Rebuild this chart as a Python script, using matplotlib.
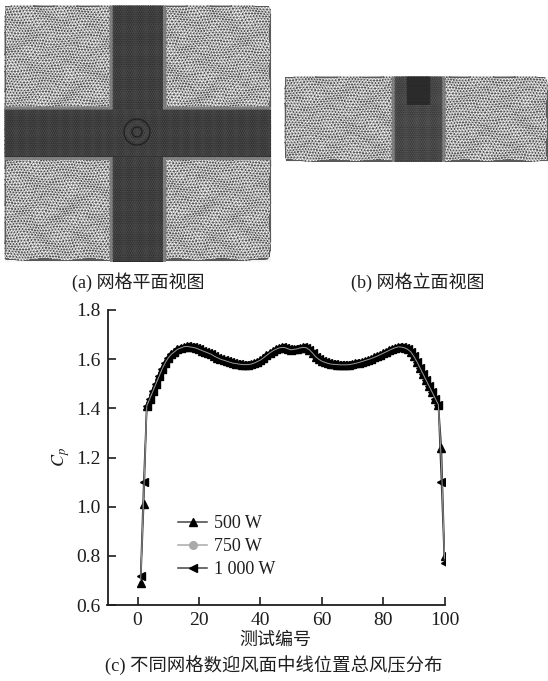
import numpy as np
import matplotlib
matplotlib.use('Agg')
import matplotlib.pyplot as plt
import matplotlib.tri as mtri
from matplotlib.lines import Line2D

plt.rcParams['font.family'] = ['Liberation Serif', 'Noto Sans CJK SC']
plt.rcParams['mathtext.fontset'] = 'stix'

# measured point ids on the windward centre line
test_no = list(range(1, 101))

# shared part of the curve, points 3 to 98
cp_mid = [1.41, 1.44, 1.47, 1.50, 1.53, 1.56, 1.585, 1.605, 1.62, 1.63,
          1.64, 1.645, 1.65, 1.652, 1.65, 1.648, 1.645, 1.64, 1.635, 1.63,
          1.625, 1.62, 1.612, 1.606, 1.60, 1.596, 1.592, 1.588, 1.584, 1.582,
          1.58, 1.578, 1.578, 1.578, 1.58, 1.584, 1.59, 1.596, 1.605, 1.615,
          1.625, 1.633, 1.64, 1.645, 1.648, 1.647, 1.642, 1.638, 1.64, 1.642,
          1.646, 1.648, 1.646, 1.638, 1.625, 1.61, 1.60, 1.592, 1.587, 1.583,
          1.58, 1.579, 1.578, 1.577, 1.577, 1.577, 1.578, 1.58, 1.583, 1.586,
          1.59, 1.594, 1.598, 1.602, 1.607, 1.612, 1.618, 1.624, 1.63, 1.636,
          1.642, 1.647, 1.65, 1.649, 1.646, 1.64, 1.63, 1.612, 1.59, 1.565,
          1.54, 1.515, 1.49, 1.465, 1.44, 1.415]
cp_500 = [0.69, 1.01] + cp_mid + [1.24, 0.80]
cp_750 = [0.70, 1.05] + cp_mid + [1.18, 0.79]
cp_1000 = [0.72, 1.10] + cp_mid + [1.10, 0.77]

x_ticks = [0, 20, 40, 60, 80, 100]
y_ticks = [0.6, 0.8, 1.0, 1.2, 1.4, 1.6, 1.8]
y_labels = ['0.6', '0.8', '1.0', '1.2', '1.4', '1.6', '1.8']

W, H = 548, 681
INK = '#1e1e1e'


def draw_mesh(ax, x0, x1, y0, y1, step, color, lw, bg, warp=0.0):
    # staggered triangle mesh inside a pixel box
    ax.fill([x0, x1, x1, x0], [y0, y0, y1, y1], color=bg, lw=0)
    xs = np.arange(x0, x1 + 0.01, step)
    ys = np.arange(y0, y1 + 0.01, step * 0.87)
    xx, yy = np.meshgrid(xs, ys)
    xx = xx + (np.arange(len(ys)) % 2)[:, None] * step / 2
    xx = np.minimum(xx, x1)
    # small warp so the cells bunch up into the winding bands of a free mesh
    dx = warp * np.sin(yy / 6.0 + np.sin(xx / 11.0) * 2)
    dy = warp * np.sin(xx / 7.0 + np.cos(yy / 9.0) * 2)
    px = np.clip(xx + dx, x0, x1)
    py = np.clip(yy + dy, y0, y1)
    tri = mtri.Triangulation(px.ravel(), py.ravel())
    ax.triplot(tri, color=color, lw=lw)


fig = plt.figure(figsize=(W / 100, H / 100), dpi=100)

# meshes are drawn in pixel coordinates on one background axes
bg = fig.add_axes([0, 0, 1, 1])
bg.set_xlim(0, W)
bg.set_ylim(H, 0)
bg.axis('off')

# (a) plan view
draw_mesh(bg, 5, 271, 6, 262, 3.1, '#5a5a5a', 0.33, '#f6f6f6', warp=0.8)
draw_mesh(bg, 110, 166, 6, 262, 2.4, '#7a7a7a', 0.4, '#8c8c8c')
draw_mesh(bg, 5, 271, 107, 160, 2.4, '#7a7a7a', 0.4, '#8c8c8c')
draw_mesh(bg, 113, 163, 6, 262, 2.2, '#474747', 0.35, '#2b2b2b')
draw_mesh(bg, 5, 271, 110, 157, 2.2, '#474747', 0.35, '#2b2b2b')
for r, c in [(13, '#222222'), (9, '#484848'), (5, '#222222')]:
    bg.add_patch(plt.Circle((137, 132), r, fill=False, ec=c, lw=1.0))

# (b) elevation view
draw_mesh(bg, 285, 548, 77, 162, 3.1, '#5a5a5a', 0.33, '#f6f6f6', warp=0.7)
draw_mesh(bg, 392, 445, 77, 162, 2.4, '#7a7a7a', 0.4, '#8c8c8c')
draw_mesh(bg, 395, 442, 77, 162, 2.2, '#505050', 0.35, '#333333')
draw_mesh(bg, 407, 430, 77, 105, 1.5, '#2c2c2c', 0.3, '#1c1c1c')

bg.text(138, 282, '(a) 网格平面视图', fontsize=13, ha='center', va='center', color=INK)
bg.text(418, 282, '(b) 网格立面视图', fontsize=13, ha='center', va='center', color=INK)
bg.text(275, 640, '测试编号', fontsize=13, ha='center', va='center', color=INK)
bg.text(274, 665, '(c) 不同网格数迎风面中线位置总风压分布', fontsize=13.2, ha='center', va='center', color=INK)

# (c) pressure curve
ax = fig.add_axes([107.5 / W, 1 - 605 / H, (444.5 - 107.5) / W, 295 / H])
ax.patch.set_alpha(0)
ax.plot(test_no, cp_500, color='#333333', lw=1.1, marker='^', ms=6, mfc='black', mec='black')
ax.plot(test_no, cp_1000, color='#333333', lw=1.1, marker='<', ms=6, mfc='black', mec='black')
ax.plot(test_no, cp_750, color='#999999', lw=0.7)

ax.set_xlim(-9.8, 100)
ax.set_ylim(0.6, 1.8)
ax.set_xticks(x_ticks)
ax.set_yticks(y_ticks)
ax.set_yticklabels(y_labels)
ax.tick_params(direction='in', length=6, width=1.2, labelsize=14, color=INK, labelcolor=INK, pad=5)
for side in ['top', 'right']:
    ax.spines[side].set_visible(False)
for side in ['left', 'bottom']:
    ax.spines[side].set_linewidth(1.3)
    ax.spines[side].set_color(INK)
ax.set_ylabel(r'$C_p$', fontsize=13, color=INK, labelpad=3)

handles = [Line2D([], [], color='#444444', lw=1.1, marker='^', ms=5.5, mfc='black', mec='black'),
           Line2D([], [], color='#aaaaaa', lw=1.1, marker='o', ms=5.5, mfc='#aaaaaa', mec='#aaaaaa'),
           Line2D([], [], color='#444444', lw=1.1, marker='<', ms=5.5, mfc='black', mec='black')]
ax.legend(handles, ['500 W', '750 W', '1 000 W'], loc='lower left',
          bbox_to_anchor=(0.205 - 8 / 337, 0.095 - 10 / 295), frameon=False, fontsize=13, handlelength=1.65,
          handletextpad=0.35, labelspacing=0.33, borderpad=0, labelcolor=INK)

fig.savefig('out.png', dpi=100)
